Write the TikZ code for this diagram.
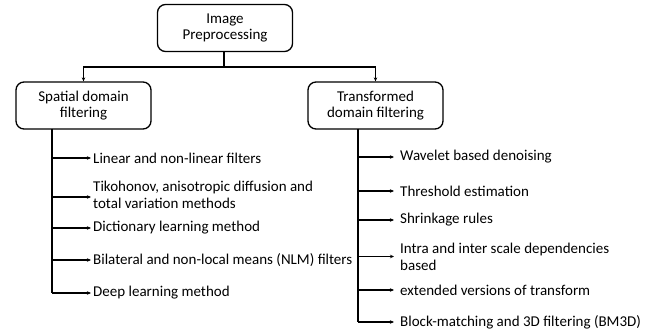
\documentclass[tikz,border=0pt]{standalone}
\usepackage{fontspec}
\setmainfont{Carlito}
\usetikzlibrary{arrows.meta}
\begin{document}
\begin{tikzpicture}[x=1pt,y=-1pt,
  box/.style={draw=black, line width=1.3pt, rounded corners=8pt, fill=white,
    inner sep=0pt, align=center, font=\fontsize{15}{16.5}\selectfont},
  item/.style={anchor=west, inner sep=0pt, align=left,
    font=\fontsize{15}{17}\selectfont},
  link/.style={line width=1.2pt, -{Stealth[length=4pt,width=3.5pt]}},
  trunk/.style={line width=1.2pt}]
\useasboundingbox (0,0) rectangle (651,334);

% boxes
\node[box, minimum width=135pt, minimum height=47pt] (root) at (225,28) {Image\\Preprocessing};
\node[box, minimum width=135pt, minimum height=47pt] (spatial) at (83.5,105.5) {Spatial domain\\filtering};
\node[box, minimum width=135pt, minimum height=47pt] (trans) at (375.5,105.5) {Transformed\\domain filtering};

% splitting connector
\coordinate (split) at (224,67);
\draw[trunk] (root.south -| split) -- (split);
\draw[link] (split) -| (spatial.north);
\draw[link] (split) -| (trans.north);

% left items
\node[item] (l1) at (93,158) {Linear and non-linear filters};
\node[item] (l2) at (93,194.5) {Tikohonov, anisotropic diffusion and\\total variation methods};
\node[item] (l3) at (93,228) {Dictionary learning method};
\node[item] (l4) at (93,260) {Bilateral and non-local means (NLM) filters};
\node[item] (l5) at (93,293) {Deep learning method};

\coordinate (lt) at (52,129);
\coordinate (lb) at (52,293);
\draw[trunk] (lt) -- (lb);
\foreach \n/\dy in {l1/0,l2/-2.5,l3/0,l4/0,l5/0}
  \draw[link] ([yshift=\dy pt]lt |- \n.west) -- ([xshift=-2pt,yshift=\dy pt]\n.west);

% right items
\node[item] (r1) at (400,157) {Wavelet based denoising};
\node[item] (r2) at (400,191) {Threshold estimation};
\node[item] (r3) at (400,220) {Shrinkage rules};
\node[item] (r4) at (400,256.5) {Intra and inter scale dependencies\\based};
\node[item] (r5) at (400,290) {extended versions of transform};
\node[item] (r6) at (400,322) {Block-matching and 3D filtering (BM3D)};

\coordinate (rt) at (358,129);
\coordinate (rb) at (358,322);
\draw[trunk] (rt) -- (rb);
\foreach \n in {r1,r2,r3,r4,r5,r6}
  \draw[link] (rt |- \n.west) -- ([xshift=-6pt]\n.west);
\end{tikzpicture}
\end{document}
